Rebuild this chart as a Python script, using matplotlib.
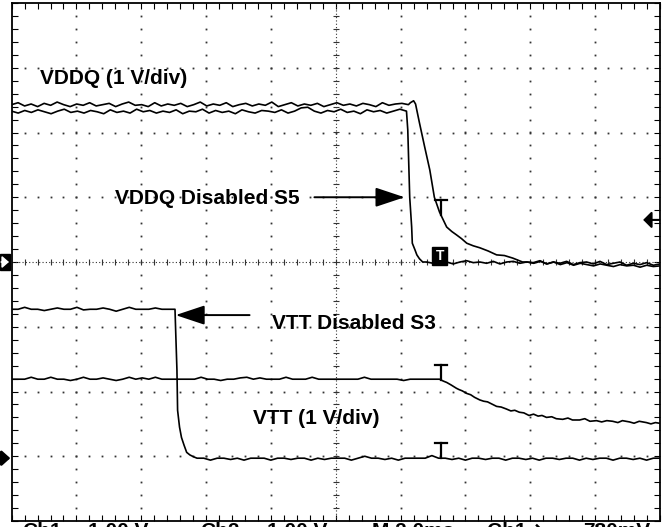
"""
Scope capture: VDDQ / VTT shutdown behaviour (S3 vs S5)
"""

import numpy as np
import matplotlib.pyplot as plt
from matplotlib.patches import Rectangle

plt.rcParams['font.family'] = ['Liberation Sans', 'DejaVu Sans']

# screen is 10 x 8 divisions, 1 V/div on every channel
# ground reference of each channel, in divisions from the bottom edge
vddq_gnd = 4.0
vtt_gnd = 0.97
trig_t = 6.62
trig_level = 4.65

# VDDQ, disabled in S5 (fast fall) -- volts above ground
vddq_s5_flat = [2.33, 2.30, 2.34, 2.31, 2.35, 2.32, 2.29, 2.33, 2.36, 2.31,
                2.33, 2.30, 2.34, 2.32, 2.29, 2.35, 2.31, 2.33, 2.30, 2.36,
                2.32, 2.34, 2.30, 2.33, 2.31, 2.35, 2.29, 2.33, 2.32, 2.36,
                2.30, 2.34, 2.31, 2.33, 2.29, 2.35, 2.32, 2.30, 2.34, 2.33,
                2.31, 2.35, 2.30, 2.33, 2.38, 2.39, 2.33, 2.30, 2.34, 2.32,
                2.36, 2.31, 2.33, 2.29, 2.35, 2.32, 2.34, 2.30, 2.33, 2.36,
                2.33]
vddq_s5_fall_t = [6.11, 6.14, 6.17, 6.18, 6.22, 6.25, 6.29, 6.34]
vddq_s5_fall_v = [2.04, 1.00, 0.54, 0.29, 0.19, 0.11, 0.05, 0.00]
vddq_s5_tail = [0.00, -0.02, 0.01, 0.00, -0.03, 0.00, 0.02, -0.01, 0.00,
                -0.02, 0.01, -0.03, 0.00, 0.01, -0.02, 0.00, -0.01, 0.02,
                -0.03, 0.00, -0.02, 0.01, -0.04, -0.01, 0.00, -0.03, 0.01,
                -0.04, -0.02, 0.00, -0.05, -0.02, -0.04, -0.01, -0.05, -0.03]

# VDDQ, disabled in S3 (slow discharge)
vddq_s3_flat = [2.43, 2.46, 2.41, 2.44, 2.40, 2.45, 2.42, 2.47, 2.43, 2.40,
                2.44, 2.42, 2.46, 2.41, 2.43, 2.45, 2.40, 2.44, 2.47, 2.42,
                2.43, 2.40, 2.46, 2.41, 2.44, 2.42, 2.45, 2.40, 2.43, 2.47,
                2.41, 2.44, 2.42, 2.46, 2.40, 2.43, 2.45, 2.41, 2.44, 2.42,
                2.47, 2.40, 2.43, 2.46, 2.41, 2.44, 2.42, 2.45, 2.40, 2.43,
                2.46, 2.42, 2.44, 2.41, 2.45, 2.43, 2.40, 2.46, 2.42, 2.44,
                2.45, 2.43]
vddq_s3_fall_t = [6.15, 6.20, 6.23, 6.29, 6.37, 6.45, 6.52, 6.60, 6.71, 6.79,
                  6.86, 6.94, 7.02, 7.12, 7.22, 7.35, 7.48, 7.60, 7.73, 7.88]
vddq_s3_fall_v = [2.46, 2.49, 2.44, 2.15, 1.78, 1.42, 1.00, 0.77, 0.54, 0.47,
                  0.42, 0.36, 0.29, 0.25, 0.22, 0.17, 0.11, 0.10, 0.06, 0.00]
vddq_s3_tail = [0.00, -0.02, 0.01, -0.03, 0.00, -0.04, -0.01, -0.05, -0.02,
                -0.04, -0.06, -0.03, -0.05, -0.07, -0.04, -0.06, -0.05, -0.08,
                -0.05, -0.07, -0.06]

# VTT, disabled in S3 (fast fall)
vtt_s3_flat = [2.30, 2.30, 2.33, 2.30, 2.30, 2.28, 2.30, 2.32, 2.30, 2.30,
               2.33, 2.29, 2.30, 2.30, 2.32, 2.30, 2.27, 2.30, 2.33, 2.30,
               2.30, 2.30, 2.32, 2.30, 2.30, 2.30]
vtt_s3_fall_t = [2.53, 2.55, 2.56, 2.59, 2.62, 2.66, 2.70, 2.75, 2.81]
vtt_s3_fall_v = [1.98, 1.36, 0.74, 0.48, 0.32, 0.20, 0.09, 0.05, 0.02]
vtt_s3_tail = [0.00, 0.00, -0.03, 0.00, 0.00, -0.02, 0.00, -0.03, 0.00, 0.00,
               0.00, -0.03, 0.00, 0.00, -0.02, 0.00, 0.00, -0.03, 0.00, -0.02,
               0.00, 0.00, 0.00, -0.03, 0.00, 0.03, 0.00, 0.00, -0.02, 0.00,
               -0.03, 0.00, 0.00, 0.00, 0.00, 0.04, 0.00, 0.00, -0.02, 0.00,
               -0.03, 0.00, 0.00, -0.02, 0.00, 0.00, -0.03, 0.00, 0.00, -0.02,
               0.00, -0.03, 0.00, 0.00, -0.02, 0.00, 0.00, -0.03, 0.00, -0.02,
               0.00, 0.00, -0.03, 0.00, 0.00, -0.02, 0.00, -0.03, 0.00, 0.00]

# VTT, disabled in S5 (slow decay)
vtt_s5_flat = [1.22, 1.22, 1.22, 1.25, 1.22, 1.22, 1.25, 1.22, 1.22, 1.20,
               1.22, 1.25, 1.22, 1.22, 1.24, 1.22, 1.20, 1.22, 1.25, 1.22,
               1.24, 1.22, 1.25, 1.22, 1.22, 1.22, 1.22, 1.22, 1.22, 1.25,
               1.22, 1.22, 1.20, 1.22, 1.22, 1.24, 1.25, 1.22, 1.24, 1.22,
               1.22, 1.22, 1.25, 1.22, 1.22, 1.22, 1.25, 1.22, 1.22, 1.22,
               1.22, 1.22, 1.22, 1.22, 1.25, 1.22, 1.22, 1.22, 1.22, 1.22,
               1.20, 1.22, 1.22, 1.22, 1.22, 1.22]
vtt_s5_fall_t = [6.60, 6.66, 6.71, 6.78, 6.86, 6.90, 6.95, 7.02, 7.08, 7.14,
                 7.22, 7.28, 7.34, 7.42, 7.48, 7.55, 7.63, 7.70, 7.76, 7.83,
                 7.90, 7.98, 8.05, 8.12, 8.18, 8.25, 8.33, 8.40, 8.50, 8.58,
                 8.65, 8.76, 8.84, 8.92, 9.02, 9.10, 9.18, 9.27, 9.35, 9.42,
                 9.53, 9.60, 9.68, 9.79, 9.86, 9.93, 9.99]
vtt_s5_fall_v = [1.22, 1.19, 1.17, 1.13, 1.08, 1.06, 1.04, 1.00, 0.98, 0.94,
                 0.90, 0.88, 0.87, 0.83, 0.80, 0.79, 0.76, 0.73, 0.74, 0.71,
                 0.70, 0.66, 0.68, 0.65, 0.66, 0.63, 0.64, 0.61, 0.60, 0.62,
                 0.59, 0.59, 0.61, 0.57, 0.58, 0.56, 0.58, 0.57, 0.55, 0.58,
                 0.56, 0.54, 0.57, 0.55, 0.53, 0.55, 0.54]

readout = [("Ch1", 22), ("1.00 V", 88), ("Ch2", 200), ("1.00 V", 267),
           ("M 2.0ms", 372), ("Ch1 \u2198", 487), ("780mV", 583)]


def build(flat, t_end, fall_t, fall_v, tail=None, tail_start=None):
    t = list(np.linspace(0, t_end, len(flat))) + list(fall_t)
    v = list(flat) + list(fall_v)
    if tail is not None:
        t += list(np.linspace(tail_start, 10, len(tail)))
        v += list(tail)
    return np.array(t), np.array(v)


traces = [
    build(vddq_s5_flat, 6.09, vddq_s5_fall_t, vddq_s5_fall_v,
          vddq_s5_tail, 6.40) + (vddq_gnd,),
    build(vddq_s3_flat, 6.12, vddq_s3_fall_t, vddq_s3_fall_v,
          vddq_s3_tail, 7.95) + (vddq_gnd,),
    build(vtt_s3_flat, 2.52, vtt_s3_fall_t, vtt_s3_fall_v,
          vtt_s3_tail, 2.86) + (vtt_gnd,),
    build(vtt_s5_flat, 6.55, vtt_s5_fall_t, vtt_s5_fall_v) + (vtt_gnd,),
]

fig = plt.figure(figsize=(6.65, 5.27), dpi=100)
ax = fig.add_axes([11.6 / 665, 6 / 527, 648.4 / 665, 518 / 527])
ax.set_xlim(0, 10)
ax.set_ylim(0, 8)
for s in ax.spines.values():
    s.set_linewidth(1.3)
ax.set_xticks(np.arange(0, 10.01, 0.2))
ax.set_yticks(np.arange(0, 8.01, 0.2))
ax.tick_params(direction='in', length=4, width=0.8, top=True, right=True,
               labelbottom=False, labelleft=False)

# graticule
minor_x = np.arange(0.2, 9.99, 0.2)
minor_y = np.arange(0.2, 7.99, 0.2)
dot = dict(ls='none', marker='s', ms=1.3, mew=0, color='#333333')
for gx in [1, 2, 3, 4, 6, 7, 8, 9]:
    ax.plot(np.full_like(minor_y, gx), minor_y, **dot)
for gy in [1, 2, 3, 5, 6, 7]:
    ax.plot(minor_x, np.full_like(minor_x, gy), **dot)
ax.axvline(5, ls=(0, (1, 2)), lw=0.8, color='#333333')
ax.axhline(4, ls=(0, (1, 2)), lw=0.8, color='#333333')
ax.plot(minor_x, np.full_like(minor_x, 4), ls='none', marker='|', ms=5,
        mew=0.8, color='#333333')
ax.plot(np.full_like(minor_y, 5), minor_y, ls='none', marker='_', ms=5,
        mew=0.8, color='#333333')

# traces
for t, v, gnd in traces:
    ax.plot(t, v + gnd, color='black', lw=1.2, zorder=3)

# trigger "T" markers
for i, (t, v, gnd) in enumerate(traces):
    y = np.interp(trig_t, t, v) + gnd
    if i == 0:
        ax.add_patch(Rectangle((trig_t - 0.13, y - 0.05), 0.23, 0.28,
                               color='black', zorder=4))
        ax.text(trig_t - 0.015, y + 0.09, "T", color='white', fontsize=10,
                fontweight='bold', ha='center', va='center', zorder=5)
    else:
        ax.plot([trig_t - 0.09, trig_t + 0.09], [y + 0.23, y + 0.23],
                color='black', lw=1.6, zorder=4)
        ax.plot([trig_t, trig_t], [y + 0.23, y], color='black', lw=1.6,
                zorder=4)

# ground / trigger level indicators
ax.add_patch(Rectangle((-0.18, 3.88), 0.155, 0.25, color='black',
                       clip_on=False))
ax.annotate('', xy=(-0.04, 4.0), xytext=(-0.16, 4.0), annotation_clip=False,
            arrowprops=dict(arrowstyle='-|>,head_length=0.4,head_width=0.35',
                            mutation_scale=10, color='white', lw=1.2,
                            shrinkA=0, shrinkB=0))
ax.annotate('', xy=(-0.02, vtt_gnd), xytext=(-0.18, vtt_gnd),
            annotation_clip=False,
            arrowprops=dict(arrowstyle='-|>,head_length=0.5,head_width=0.45',
                            mutation_scale=10, color='black', lw=2,
                            shrinkA=0, shrinkB=0))
ax.annotate('', xy=(9.74, trig_level), xytext=(9.99, trig_level),
            arrowprops=dict(arrowstyle='-|>,head_length=0.5,head_width=0.5',
                            mutation_scale=10, color='black', lw=1.5,
                            shrinkA=0, shrinkB=0))

# labels
txt = dict(fontsize=15, fontweight='bold', color='black', va='baseline')
ax.text(0.44, 6.75, "VDDQ (1 V/div)", **txt)
ax.text(3.72, 1.50, "VTT (1 V/div)", **txt)
ax.text(1.60, 4.90, "VDDQ Disabled S5", **txt)
ax.text(4.01, 2.96, "VTT Disabled S3", **txt)

big_head = dict(arrowstyle='-|>,head_length=0.9,head_width=0.3',
                mutation_scale=20, color='black', lw=1.4, shrinkA=0,
                shrinkB=0)
ax.annotate('', xy=(6.06, 5.0), xytext=(4.67, 5.0), arrowprops=big_head)
ax.annotate('', xy=(2.53, 3.18), xytext=(3.67, 3.18), arrowprops=big_head)

# scope readout line (cut off at the bottom of the capture)
for label, xpx in readout:
    fig.text(xpx / 665, 5 / 527, label, fontsize=15, fontweight='bold',
             ha='left', va='top')

fig.savefig("out.png", dpi=100)
plt.close(fig)
